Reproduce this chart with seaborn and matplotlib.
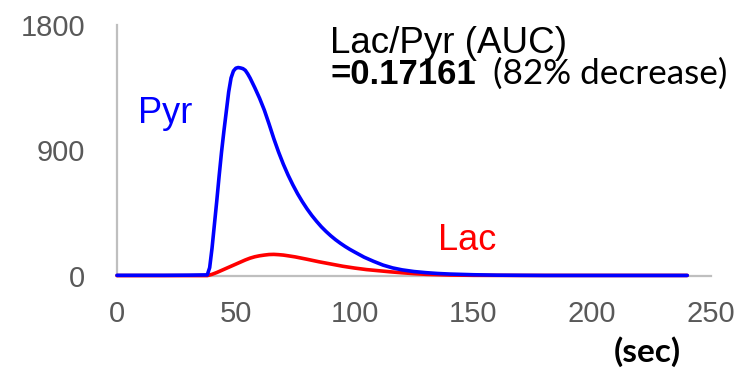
import matplotlib
matplotlib.use("Agg")
import matplotlib.pyplot as plt
import seaborn as sns
import pandas as pd

# ---- data ----
pyr_time = [0, 10, 20, 30, 38, 39, 40, 41, 42, 43, 44, 45, 46, 47, 48, 49, 50, 51, 52, 53, 54, 55, 56,
            58, 60, 62, 64, 66, 68, 70, 72, 74, 76, 78, 80, 82, 84, 86, 88, 90, 92, 94, 96, 98, 100,
            104, 108, 112, 116, 120, 125, 130, 135, 140, 150, 160, 170, 180, 200, 220, 240]
pyr_vals = [5, 5, 5, 6, 8, 60, 200, 370, 540, 720, 890, 1040, 1180, 1320, 1420, 1470, 1490, 1495, 1492, 1487, 1475, 1450, 1420,
            1350, 1275, 1190, 1090, 985, 889, 802, 724, 654, 590, 533, 481, 434, 392, 353, 319, 288, 260, 235, 212, 191, 172,
            135, 105, 78, 58, 44, 32, 24, 18, 14, 9, 6, 5, 4, 4, 4, 4]

lac_time = [0, 10, 20, 30, 38, 40, 42, 44, 46, 48, 50, 52, 54, 56, 58, 60, 62, 64, 66, 68, 70, 72, 75,
            80, 85, 90, 95, 100, 105, 110, 115, 120, 125, 130, 140, 150, 170, 200, 240]
lac_vals = [3, 3, 3, 3, 3, 12, 25, 40, 55, 70, 85, 100, 115, 128, 138, 145, 150, 154, 155, 153, 150, 145, 137,
            120, 102, 86, 70, 57, 46, 38, 30, 23, 17, 12, 7, 5, 4, 4, 4]

x_ticks = [0, 50, 100, 150, 200, 250]
y_ticks = [0, 900, 1800]

pyr_df = pd.DataFrame({"t": pyr_time, "v": pyr_vals})
lac_df = pd.DataFrame({"t": lac_time, "v": lac_vals})

sns.set_style("white")
plt.rcParams["font.family"] = ["Liberation Sans", "DejaVu Sans"]

fig = plt.figure(figsize=(7.47, 3.74), dpi=100)
ax = fig.add_axes([117 / 747, 1 - 276 / 374, (711 - 117) / 747, (276 - 25) / 374])

sns.lineplot(data=lac_df, x="t", y="v", ax=ax, color="#ff0000", linewidth=2.6, clip_on=False, zorder=3)
sns.lineplot(data=pyr_df, x="t", y="v", ax=ax, color="#0000ff", linewidth=2.6, clip_on=False, zorder=4)

ax.set_xlim(0, 250)
ax.set_ylim(0, 1800)
ax.set_xticks(x_ticks)
ax.set_yticks(y_ticks)
ax.set_xlabel("")
ax.set_ylabel("")
ax.tick_params(axis="both", length=0, labelsize=21, labelcolor="#595959")
ax.tick_params(axis="y", pad=23)
ax.tick_params(axis="x", pad=17)

for s in ["top", "right"]:
    ax.spines[s].set_visible(False)
for s in ["left", "bottom"]:
    ax.spines[s].set_color("#bfbfbf")
    ax.spines[s].set_linewidth(1.6)
    ax.spines[s].set_zorder(1)

ax.text(8.8, 1100, "Pyr", color="#0000ff", fontsize=26, va="baseline", ha="left")
ax.text(135, 186, "Lac", color="#ff0000", fontsize=26, va="baseline", ha="left")

fig.text(330 / 747, 1 - 53 / 374, "Lac/Pyr (AUC)", fontsize=26.5, color="black", va="baseline", ha="left")
fig.text(330 / 747, 1 - 84 / 374, "=0.17161", fontsize=25, fontweight="bold", color="black",
         va="baseline", ha="left")
fig.text(493 / 747, 1 - 84 / 374, "(82% decrease)", fontsize=25.3, color="black", va="baseline", ha="left",
         family=["Lato", "DejaVu Sans"])

fig.text(647 / 747, 1 - 352 / 374, "(sec)", fontsize=24, fontweight="bold", color="black",
         va="center", ha="center", family=["Lato", "DejaVu Sans"])

fig.savefig("out.png", dpi=100)
